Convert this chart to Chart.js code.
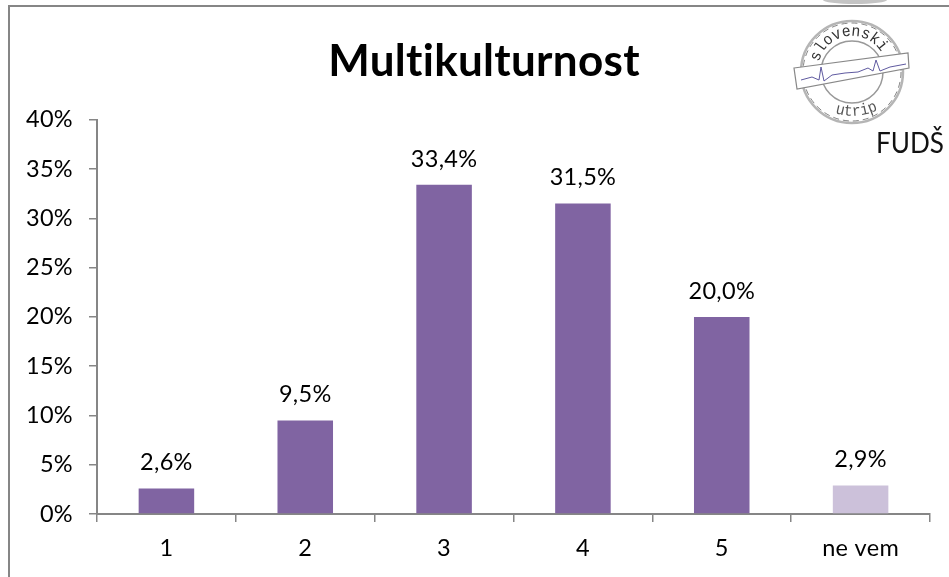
<!DOCTYPE html>
<html><head><meta charset="utf-8">
<script src="https://cdn.jsdelivr.net/npm/chart.js@4"></script>
<style>
html,body{margin:0;padding:0;background:#fff;width:949px;height:577px;overflow:hidden}
#wrap{position:absolute;left:0;top:0;width:949px;height:577px}
#frame{position:absolute;left:8px;top:5px;width:960px;height:600px;border:2px solid #868686;box-sizing:border-box}
canvas{position:absolute;left:0;top:0}
#logo{position:absolute;left:0;top:0}
</style></head><body>
<div id="wrap">
<div id="frame"></div>
<canvas id="c" width="949" height="577"></canvas>
<svg id="logo" width="949" height="577" viewBox="0 0 949 577">
  <defs>
    <path id="arcTop" d="M 819 62 A 34 34 0 0 1 884 58"/>
    <path id="arcBot" d="M 835 113 Q 858 120 880 109"/>
  </defs>
  <ellipse cx="855" cy="0" rx="32" ry="4" fill="#c4c4c4"/>
  <circle cx="852" cy="72" r="51" fill="none" stroke="#b5b5b5" stroke-width="2.5"/>
  <circle cx="852" cy="72" r="49" fill="none" stroke="#666" stroke-width="0.8" stroke-dasharray="6 4"/>
  <circle cx="852" cy="72" r="31" fill="none" stroke="#999" stroke-width="1.5"/>
  <text font-family="Liberation Mono" font-size="16" fill="#333"><textPath href="#arcTop" textLength="80" lengthAdjust="spacingAndGlyphs">slovenski</textPath></text>
  <text font-family="Liberation Mono" font-size="16" fill="#555"><textPath href="#arcBot" textLength="44" lengthAdjust="spacingAndGlyphs">utrip</textPath></text>
  <polygon points="794,68 908,53 909,68 797,89" fill="#fff" stroke="#888" stroke-width="1.2"/>
  <polyline points="801,80 812,77 819,80 821,67 824,81 832,75 845,73 858,72 868,68 873,71 876,60 880,71 890,67 906,64" fill="none" stroke="#5f5aa0" stroke-width="1"/>
  <text font-family="Lato" font-size="29" fill="#111" x="876" y="153" textLength="68" lengthAdjust="spacingAndGlyphs">FUDŠ</text>
</svg>
</div>
<script>
const categories = ['1','2','3','4','5','ne vem'];
const values = [2.6,9.5,33.4,31.5,20.0,2.9];
const barColors = ['#8064A2','#8064A2','#8064A2','#8064A2','#8064A2','#CCC1DA'];
const titleText = 'Multikulturnost';
const FONT = 'Lato, "Open Sans", sans-serif';

const labelPlugin = {
  id:'barLabels',
  afterDatasetsDraw(chart){
    const ctx = chart.ctx, meta = chart.getDatasetMeta(0);
    ctx.save();
    ctx.font = '23.5px '+FONT;
    ctx.fillStyle = '#000';
    ctx.textAlign = 'center';
    ctx.textBaseline = 'bottom';
    meta.data.forEach((bar,i)=>{
      ctx.fillText(values[i].toFixed(1).replace('.',',')+'%', bar.x, bar.y-14);
    });
    ctx.restore();
  }
};
const titleShift = {
  id:'titleShift',
  afterLayout(chart){ chart.titleBlock.left += 18; },
  beforeDraw(chart){ chart.ctx.letterSpacing='0.3px'; }
};

new Chart(document.getElementById('c'),{
  type:'bar',
  data:{labels:categories,datasets:[{data:values,backgroundColor:barColors,borderWidth:0,barPercentage:1,categoryPercentage:0.4}]},
  plugins:[labelPlugin,titleShift],
  options:{
    responsive:false,animation:false,
    layout:{padding:{left:20,right:19,top:0,bottom:0}},
    plugins:{
      legend:{display:false},tooltip:{enabled:false},
      title:{display:true,text:titleText,color:'#000',font:{family:FONT,size:44,weight:'bold'},padding:{top:35,bottom:32}}
    },
    scales:{
      x:{
        grid:{display:true,drawOnChartArea:false,drawTicks:true,tickLength:8,color:'#868686',lineWidth:1.5,offset:true},
        border:{color:'#868686',width:2},
        ticks:{color:'#000',font:{family:FONT,size:23.5},padding:12,maxRotation:0},
        afterFit(s){s.height=63;}
      },
      y:{
        min:0,max:40,
        grid:{display:true,drawOnChartArea:false,drawTicks:true,tickLength:8,color:'#868686',lineWidth:1.5},
        border:{color:'#868686',width:2},
        ticks:{stepSize:5,color:'#000',font:{family:FONT,size:23.5},padding:16,callback:v=>v+'%'},
        afterFit(s){s.width=77;}
      }
    }
  }
});
</script>
</body></html>
